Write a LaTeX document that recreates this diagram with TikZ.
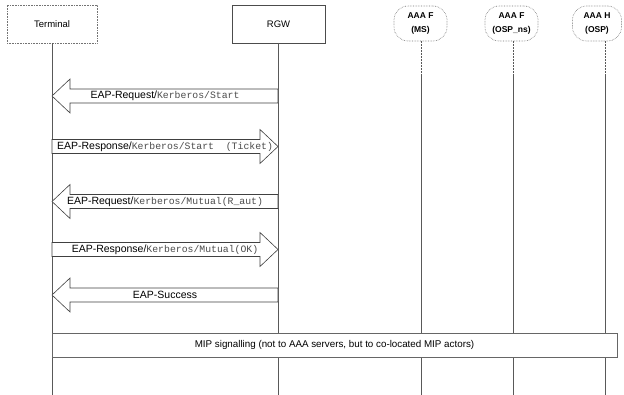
\documentclass[tikz,border=0pt]{standalone}
\usepackage{fontspec}
\setmainfont{Liberation Sans}
\setsansfont{Liberation Sans}
\setmonofont{Liberation Mono}
\usetikzlibrary{calc}
\newcommand\sfpart[1]{{\fontsize{10.5}{12}\selectfont #1}}
\newcommand\ttpart[1]{{\ttfamily\color{black!70}\fontsize{9.8}{12}\selectfont #1}}
\begin{document}
\begin{tikzpicture}[x=1pt,y=-1pt,
  actorbox/.style={draw=black!55, densely dotted, line width=0.6pt, minimum width=90pt, minimum height=38pt, inner sep=0pt, font=\fontsize{9.5}{11}\selectfont},
  rgwbox/.style={draw=black!70, line width=0.6pt, minimum width=93pt, minimum height=38pt, inner sep=0pt, font=\fontsize{9.5}{11}\selectfont},
  aaabox/.style={draw=black!55, densely dotted, line width=0.6pt, rounded corners=14pt, minimum width=53pt, minimum height=35pt, inner sep=0pt, align=center, font=\bfseries\fontsize{8.5}{13.5}\selectfont},
  life/.style={draw=black!65, line width=0.5pt},
  msg/.style={draw=black!75, line width=0.6pt, fill=white, line join=miter},
  lbl/.style={inner sep=0pt, font=\fontsize{10.5}{12}\selectfont},
  mipbox/.style={draw=black!60, line width=0.6pt, fill=white, inner sep=0pt, font=\fontsize{9.8}{11}\selectfont}
]
\useasboundingbox (0,0) rectangle (624,395);

% actors
\node[actorbox] (term) at (52,24) {Terminal};
\node[rgwbox] (rgw) at (278.5,24) {RGW};
\node[aaabox] (aaa1) at (420.5,23.5) {AAA F\\(MS)};
\node[aaabox] (aaa2) at (511.5,23.5) {AAA F\\(OSP\_ns)};
\node[aaabox, minimum width=49pt] (aaa3) at (597,23.5) {AAA H\\(OSP)};

% lifeline ends
\coordinate (termE) at (52,395);
\coordinate (rgwE) at (278,395);
\coordinate (aaa1E) at (421,395);
\coordinate (aaa2E) at (513,395);
\coordinate (aaa3E) at (605,395);
\draw[life] (term.south) -- (termE);
\draw[life] (278,43) -- (rgwE);
\draw[life, densely dotted] (421,41) -- (421,75);
\draw[life] (421,75) -- (aaa1E);
\draw[life, densely dotted] (513,41) -- (513,75);
\draw[life] (513,75) -- (aaa2E);
\draw[life, densely dotted] (605,41) -- (605,75);
\draw[life] (605,75) -- (aaa3E);

% message anchors on the lifelines
\coordinate (t1) at (52,96);    \coordinate (r1) at (278,96);
\coordinate (t2) at (52,146.5); \coordinate (r2) at (278,146.5);
\coordinate (t3) at (52,201.5); \coordinate (r3) at (278,201.5);
\coordinate (t4) at (52,249.5); \coordinate (r4) at (278,249.5);
\coordinate (t5) at (52,295);   \coordinate (r5) at (278,295);

% 1: RGW -> Terminal
\draw[msg] ($(r1)+(0,-7)$) -- ($(t1)+(18,-7)$) -- ($(t1)+(18,-17)$) -- (t1) -- ($(t1)+(18,17)$) -- ($(t1)+(18,7)$) -- ($(r1)+(0,7)$) -- cycle;
\node[lbl] (m1) at ($(t1)!0.5!(r1)$) {\sfpart{EAP-Request/}\ttpart{Kerberos/Start}};

% 2: Terminal -> RGW
\draw[msg] ($(t2)+(0,-7)$) -- ($(r2)+(-18,-7)$) -- ($(r2)+(-18,-17)$) -- (r2) -- ($(r2)+(-18,17)$) -- ($(r2)+(-18,7)$) -- ($(t2)+(0,7)$) -- cycle;
\node[lbl] (m2) at ($(t2)!0.5!(r2)$) {\sfpart{EAP-Response/}\ttpart{Kerberos/Start~~(Ticket)}};

% 3: RGW -> Terminal
\draw[msg] ($(r3)+(0,-7)$) -- ($(t3)+(18,-7)$) -- ($(t3)+(18,-17)$) -- (t3) -- ($(t3)+(18,17)$) -- ($(t3)+(18,7)$) -- ($(r3)+(0,7)$) -- cycle;
\node[lbl] (m3) at ($(t3)!0.5!(r3)$) {\sfpart{EAP-Request/}\ttpart{Kerberos/Mutual(R\_aut)}};

% 4: Terminal -> RGW
\draw[msg] ($(t4)+(0,-7)$) -- ($(r4)+(-18,-7)$) -- ($(r4)+(-18,-17)$) -- (r4) -- ($(r4)+(-18,17)$) -- ($(r4)+(-18,7)$) -- ($(t4)+(0,7)$) -- cycle;
\node[lbl] (m4) at ($(t4)!0.5!(r4)$) {\sfpart{EAP-Response/}\ttpart{Kerberos/Mutual(OK)}};

% 5: RGW -> Terminal
\draw[msg] ($(r5)+(0,-7)$) -- ($(t5)+(18,-7)$) -- ($(t5)+(18,-17)$) -- (t5) -- ($(t5)+(18,17)$) -- ($(t5)+(18,7)$) -- ($(r5)+(0,7)$) -- cycle;
\node[lbl] (m5) at ($(t5)!0.5!(r5)$) {\sfpart{EAP-Success}};

% MIP signalling
\node[mipbox, minimum width=565pt, minimum height=24pt] (mip) at (334.5,345) {MIP signalling (not to AAA servers, but to co-located MIP actors)};
\end{tikzpicture}
\end{document}
